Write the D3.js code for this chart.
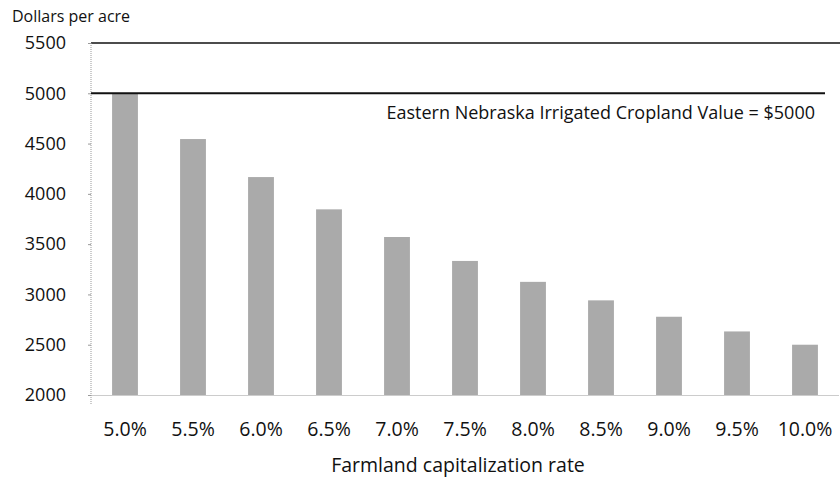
<!DOCTYPE html>
<html>
<head>
<meta charset="utf-8">
<script src="https://cdn.jsdelivr.net/npm/d3@7"></script>
<style>
  body { margin: 0; background: #fff; }
  svg, svg text { font-family: "Open Sans", "Noto Sans", sans-serif; }
</style>
</head>
<body>
<svg width="840" height="485"></svg>
<script>
// capitalization rates and implied land value ($/acre)
var rates = ["5.0%", "5.5%", "6.0%", "6.5%", "7.0%", "7.5%", "8.0%", "8.5%", "9.0%", "9.5%", "10.0%"];
var values = [5000, 4545, 4167, 3846, 3571, 3333, 3125, 2941, 2778, 2632, 2500];
var yTicks = [2000, 2500, 3000, 3500, 4000, 4500, 5000, 5500];
var refValue = 5000;
var refLabel = "Eastern Nebraska Irrigated Cropland Value = $5000";

var svg = d3.select("svg");
var plotLeft = 91, plotRight = 839, plotTop = 43, plotBottom = 395;

var x = d3.scaleBand()
    .domain(rates)
    .range([plotLeft, plotRight])
    .paddingInner(0.62)
    .paddingOuter(0.31);

var y = d3.scaleLinear()
    .domain([2000, 5500])
    .range([plotBottom, plotTop]);

// top frame line
svg.append("line")
    .attr("x1", plotLeft).attr("x2", 840)
    .attr("y1", y(5500)).attr("y2", y(5500))
    .attr("stroke", "#111").attr("stroke-width", 1.3);

// bars
svg.selectAll("rect.bar")
    .data(values)
    .enter().append("rect")
      .attr("class", "bar")
      .attr("x", function(d, i) { return x(rates[i]); })
      .attr("width", x.bandwidth())
      .attr("y", function(d) { return y(d); })
      .attr("height", function(d) { return y(2000) - y(d); })
      .attr("fill", "#aaaaaa");

// y axis
var yAxis = svg.append("g")
    .attr("transform", "translate(" + plotLeft + ",0)")
    .call(d3.axisLeft(y).tickValues(yTicks).tickSize(3).tickFormat(d3.format("d")));
yAxis.attr("font-family", null);
yAxis.select(".domain")
    .attr("d", "M0," + (plotTop) + "V" + (plotBottom + 10))
    .attr("stroke", "#999").attr("stroke-dasharray", "1,1");
yAxis.selectAll(".tick line").attr("stroke", "#999");
yAxis.selectAll(".tick text")
    .attr("x", -25)
    .attr("font-size", 18)
    .attr("fill", "#111");

// x axis
var xAxis = svg.append("g")
    .attr("transform", "translate(0," + plotBottom + ")")
    .call(d3.axisBottom(x).tickSize(0).tickPadding(27));
xAxis.attr("font-family", null);
xAxis.select(".domain").attr("stroke", "#999").attr("stroke-dasharray", "1,1");
xAxis.selectAll(".tick text")
    .attr("font-size", 19.5)
    .attr("fill", "#111");

// reference line
svg.append("line")
    .attr("x1", plotLeft).attr("x2", 825)
    .attr("y1", y(refValue)).attr("y2", y(refValue))
    .attr("stroke", "#111").attr("stroke-width", 2);

svg.append("text")
    .attr("x", 815).attr("y", y(refValue) + 26)
    .attr("text-anchor", "end")
    .attr("font-size", 18)
    .attr("fill", "#111")
    .text(refLabel);

// axis titles
svg.append("text")
    .attr("x", 12).attr("y", 22)
    .attr("font-size", 16)
    .attr("fill", "#111")
    .text("Dollars per acre");

svg.append("text")
    .attr("x", 458).attr("y", 472)
    .attr("text-anchor", "middle")
    .attr("font-size", 19.5)
    .attr("fill", "#111")
    .text("Farmland capitalization rate");
</script>
</body>
</html>
